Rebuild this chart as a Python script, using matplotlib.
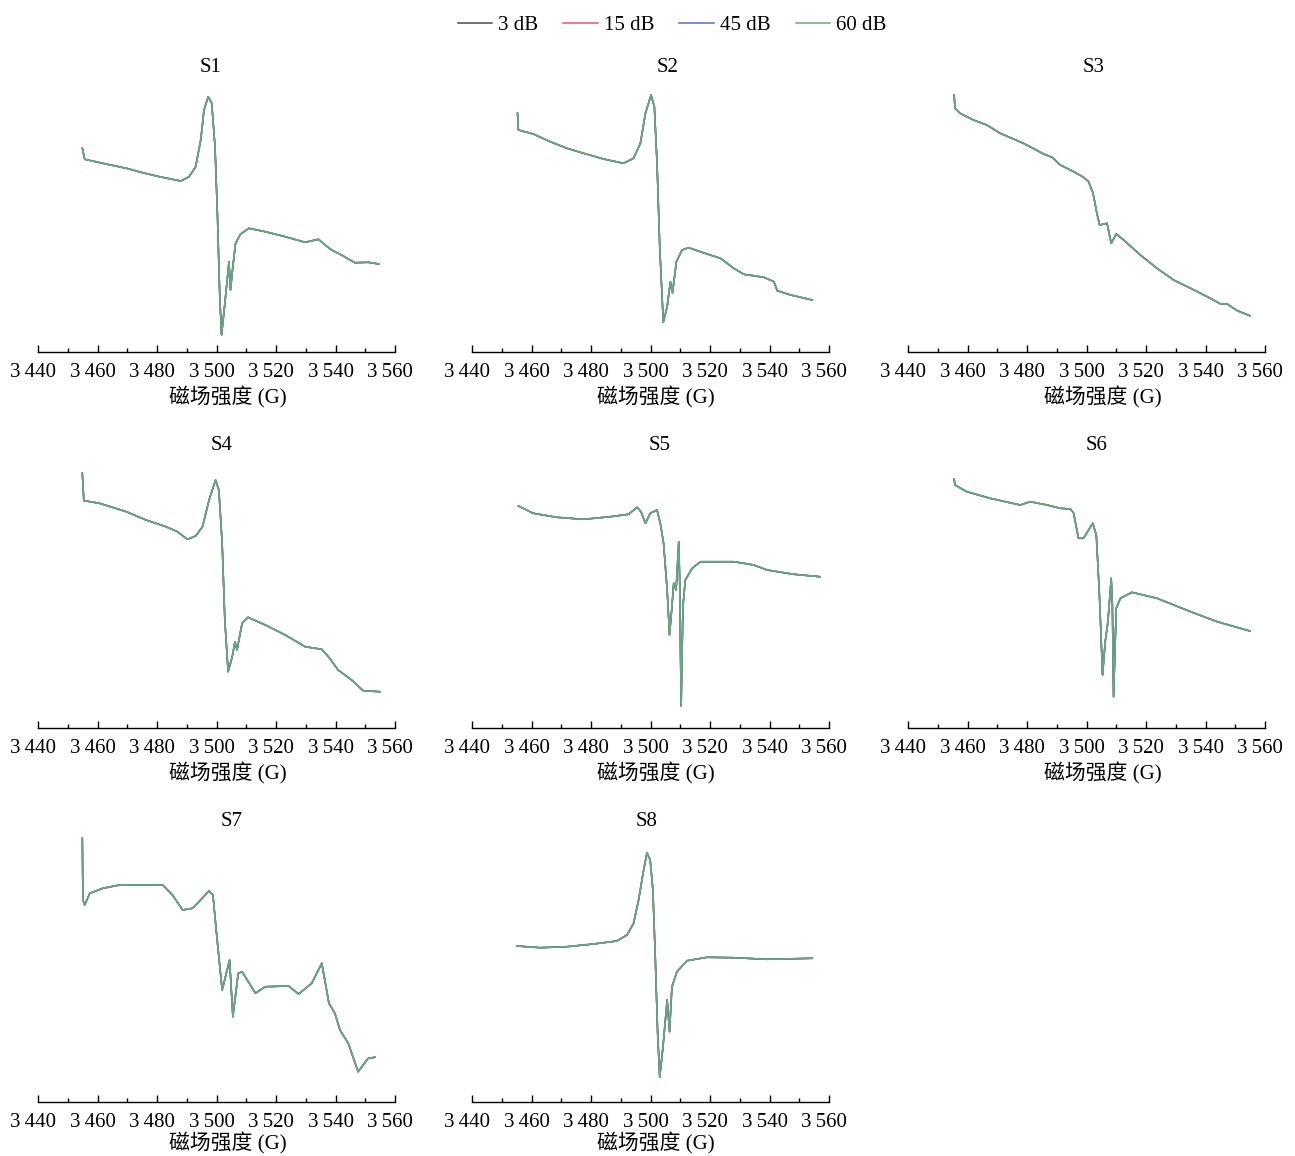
import numpy as np
import matplotlib.pyplot as plt
import matplotlib.transforms as mtransforms
from matplotlib.ticker import MultipleLocator

plt.rcParams['font.family'] = ['Liberation Serif', 'Noto Sans CJK SC', 'DejaVu Serif']

# power levels (all four traces overlap almost perfectly)
powers = ["3 dB", "15 dB", "45 dB", "60 dB"]
colors = ["#4a4a4a", "#e4566e", "#4f70cc", "#62ad78"]

x_ticks = [3440, 3460, 3480, 3500, 3520, 3540, 3560]
x_tick_labels = ["3\u2009440", "3\u2009460", "3\u2009480", "3\u2009500",
                 "3\u2009520", "3\u2009540", "3\u2009560"]
x_label = "磁场强度 (G)"

# field (G) / intensity (a.u.)
s1_field = [3454.9, 3455.7, 3461.8, 3469.7, 3475.2, 3480.8, 3488.0, 3490.8, 3493.0, 3494.7,
            3495.8, 3497.2, 3498.4, 3499.5, 3500.3, 3501.1, 3501.7, 3502.7, 3504.2, 3504.7,
            3505.5, 3506.4, 3508.1, 3510.9, 3516.4, 3523.1, 3529.8, 3534.3, 3536.5, 3538.7,
            3542.0, 3546.5, 3551.0, 3554.6]
s1_int = [203.7, 192.7, 188.7, 183.7, 179.3, 175.3, 171.0, 175.3, 185.3, 212.0,
          242.0, 255.3, 248.7, 205.3, 138.7, 55.3, 17.0, 45.3, 90.3, 62.0,
          85.3, 108.7, 118.0, 123.7, 120.3, 115.3, 109.7, 112.7, 107.0, 102.0,
          97.0, 89.3, 89.7, 88.0]

s2_field = [3455.3, 3455.6, 3460.6, 3466.3, 3471.9, 3477.5, 3484.2, 3490.9, 3494.3, 3496.6,
            3498.3, 3500.2, 3501.3, 3502.2, 3503.1, 3504.3, 3505.6, 3506.7, 3507.4, 3508.7,
            3510.6, 3512.8, 3519.0, 3523.5, 3528.0, 3531.4, 3538.1, 3541.5, 3542.6, 3547.1,
            3554.4]
s2_int = [238.7, 222.0, 218.0, 210.3, 203.7, 198.7, 193.0, 188.7, 193.7, 208.7,
          238.7, 257.0, 245.3, 188.7, 105.3, 29.7, 45.3, 70.3, 59.3, 90.3,
          102.0, 104.3, 98.0, 93.7, 83.7, 77.7, 74.7, 70.3, 61.3, 57.0,
          52.0]

s3_field = [3455.5, 3455.8, 3457.5, 3462.0, 3466.5, 3471.0, 3478.8, 3485.6, 3488.4, 3491.2,
            3495.7, 3499.0, 3500.7, 3502.2, 3503.5, 3504.4, 3506.9, 3508.3, 3510.0, 3512.5,
            3518.1, 3523.7, 3529.3, 3535.0, 3540.6, 3545.1, 3547.3, 3550.7, 3554.9]
s3_int = [257.0, 243.7, 238.7, 232.0, 227.0, 218.7, 208.7, 198.0, 194.7, 187.0,
          180.3, 174.7, 170.3, 158.7, 138.7, 127.0, 128.7, 108.7, 118.0, 112.0,
          97.0, 83.7, 72.0, 63.7, 55.3, 48.0, 48.0, 41.3, 36.3]

s4_field = [3454.9, 3455.4, 3460.7, 3469.7, 3476.3, 3483.0, 3486.9, 3490.2, 3493.0, 3495.3,
            3497.5, 3499.7, 3500.8, 3501.9, 3502.8, 3503.9, 3505.3, 3506.2, 3506.9, 3508.6,
            3510.6, 3516.4, 3523.1, 3529.8, 3535.4, 3537.6, 3540.9, 3545.4, 3549.3, 3554.9]
s4_int = [254.7, 227.3, 224.7, 216.3, 208.0, 201.3, 196.3, 188.7, 192.0, 201.3,
          228.0, 248.0, 238.0, 184.7, 108.0, 56.3, 71.3, 86.3, 78.0, 104.7,
          110.7, 103.0, 93.0, 81.3, 78.7, 71.3, 58.0, 48.0, 37.3, 36.3]

s5_field = [3455.6, 3460.6, 3468.5, 3477.5, 3486.5, 3492.6, 3495.5, 3496.8, 3498.3, 3499.9,
            3502.2, 3503.3, 3504.4, 3505.6, 3506.4, 3507.2, 3507.8, 3508.6, 3509.5, 3509.8,
            3510.3, 3510.9, 3511.7, 3514.0, 3516.8, 3522.4, 3528.0, 3534.7, 3539.2, 3548.2,
            3556.9]
s5_int = [222.0, 214.7, 210.7, 208.7, 211.3, 213.7, 220.7, 216.3, 204.7, 214.7,
          218.0, 204.7, 184.7, 138.0, 93.0, 121.3, 144.7, 138.0, 186.3, 148.0,
          22.0, 121.3, 148.0, 159.7, 166.3, 166.3, 166.3, 163.0, 158.0, 153.7,
          151.3]

s6_field = [3455.5, 3455.8, 3459.8, 3467.6, 3477.7, 3481.1, 3486.7, 3491.2, 3494.6, 3495.7,
            3497.3, 3499.0, 3502.1, 3503.3, 3504.3, 3505.4, 3506.3, 3507.2, 3508.3, 3508.7,
            3509.1, 3510.0, 3511.4, 3515.3, 3523.7, 3535.0, 3543.9, 3554.9]
s6_int = [249.0, 243.0, 236.3, 229.7, 223.0, 226.3, 223.0, 219.7, 219.0, 214.7,
          189.7, 189.7, 204.7, 193.0, 136.3, 53.0, 86.3, 106.3, 149.7, 123.0,
          31.3, 119.7, 129.7, 135.7, 129.7, 116.3, 106.3, 97.0]

s7_field = [3454.9, 3455.1, 3455.7, 3457.4, 3461.8, 3467.4, 3474.1, 3481.9, 3485.2, 3488.6,
            3491.9, 3494.1, 3497.5, 3498.8, 3499.9, 3501.9, 3504.4, 3505.5, 3507.3, 3508.6,
            3513.1, 3516.4, 3524.2, 3527.6, 3532.0, 3535.4, 3537.8, 3539.8, 3541.5, 3544.3,
            3547.6, 3551.0, 3553.2]
s7_int = [263.7, 202.0, 197.0, 208.7, 213.7, 217.0, 217.0, 217.0, 207.0, 192.0,
          193.7, 200.3, 211.0, 207.0, 172.0, 112.0, 142.0, 85.3, 128.7, 130.3,
          108.7, 115.3, 116.0, 108.0, 118.7, 138.7, 98.7, 88.7, 72.0, 58.7,
          30.3, 43.7, 44.7]

s8_field = [3455.1, 3462.9, 3471.9, 3480.8, 3488.7, 3492.1, 3494.3, 3496.0, 3497.5, 3498.8,
            3499.9, 3500.8, 3501.6, 3502.4, 3503.1, 3504.2, 3505.6, 3506.4, 3507.2, 3508.9,
            3512.3, 3519.0, 3528.0, 3539.2, 3554.4]
s8_int = [156.0, 154.3, 155.3, 158.0, 161.0, 167.0, 178.7, 202.0, 228.7, 249.3,
          242.0, 212.0, 145.3, 68.7, 24.7, 55.3, 102.0, 70.3, 115.3, 130.3,
          141.3, 144.7, 144.3, 142.7, 143.7]

samples = ["S1", "S2", "S3", "S4", "S5", "S6", "S7", "S8"]
fields = [s1_field, s2_field, s3_field, s4_field, s5_field, s6_field, s7_field, s8_field]
intensities = [s1_int, s2_int, s3_int, s4_int, s5_int, s6_int, s7_int, s8_int]

W, H = 1295, 1156
fig = plt.figure(figsize=(W / 100, H / 100), dpi=100)

col_left = [38, 472, 908]
col_width = 357
row_bottom = [352, 728, 1102]
row_height = [272, 270, 268]
xlabel_pad = [3.0, 3.0, 0.5]
# titles / axis labels in the original are not exactly centred (pixels)
title_shift = [-6, 17, 7, 5, 9, 10, 15, -4]
xlabel_shift = [11, 5, 16]

label_shift = mtransforms.ScaledTranslation(-5 / 100, 0, fig.dpi_scale_trans)

for i, name in enumerate(samples):
    r, c = divmod(i, 3)
    left = col_left[c] / W
    bottom = 1 - row_bottom[r] / H
    ax = fig.add_axes([left, bottom, col_width / W, row_height[r] / H])
    for p, col in zip(powers, colors):
        ax.plot(fields[i], intensities[i], color=col, lw=1.1, label=p)
    ax.set_xlim(3440, 3560)
    ax.set_ylim(0, row_height[r])
    for s in ["top", "right", "left"]:
        ax.spines[s].set_visible(False)
    ax.spines["bottom"].set_linewidth(1.0)
    ax.set_yticks([])
    ax.set_xticks(x_ticks)
    ax.set_xticklabels(x_tick_labels)
    ax.xaxis.set_minor_locator(MultipleLocator(10))
    ax.tick_params(axis="x", which="major", direction="in", length=5, width=1.0,
                   labelsize=15, pad=8)
    ax.tick_params(axis="x", which="minor", direction="in", length=3, width=1.0)
    for lab in ax.get_xticklabels():
        lab.set_transform(lab.get_transform() + label_shift)
    ax.set_xlabel(x_label, fontsize=15, labelpad=xlabel_pad[r])
    ax.xaxis.label.set_x(0.5 + xlabel_shift[c] / col_width)
    ax.set_title(name, fontsize=15, pad=6,
                 x=0.5 + title_shift[i] / col_width)
    if i == 0:
        handles, labels = ax.get_legend_handles_labels()

fig.legend(handles, labels, loc="upper center", bbox_to_anchor=(0.519, 1.003),
           ncol=4, frameon=False, fontsize=15, handlelength=1.65,
           columnspacing=1.2, handletextpad=0.3)

fig.savefig("out.png", dpi=100)
